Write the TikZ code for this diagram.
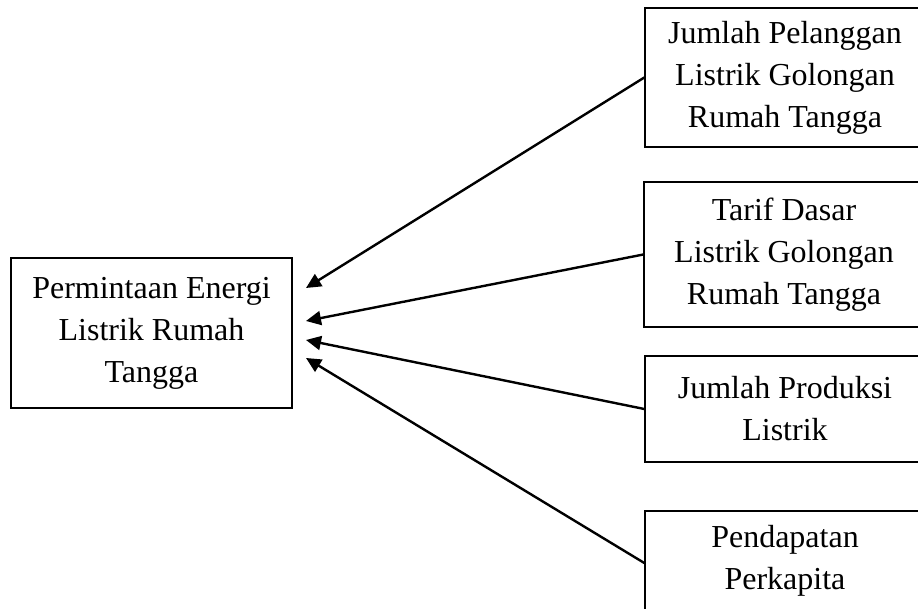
\documentclass[tikz,border=0pt]{standalone}
\usepackage{fontspec}
\setmainfont{Liberation Serif}
\usepackage{tikz}
\usetikzlibrary{arrows.meta,positioning,calc}
\tikzset{
	box/.style={
		rectangle,
		draw=black,
		line width=0.7pt,
		inner sep=0pt,
		align=center,
		font=\fontsize{16}{21}\selectfont,
	},
	factor/.style={
		box,
		minimum width=140pt,
	},
}

\begin{document}
\begin{tikzpicture}[x=0.5pt, y=-0.5pt, >={Triangle[length=7.5pt,width=7pt]}]
				
				\tikzstyle{link}=[->,line width=1.2pt]
				\clip (0,0) rectangle (918,609);
				
				\node [box, minimum width=140.5pt, minimum height=75pt] (demand) at (151.5,333) {Permintaan Energi\\Listrik Rumah\\Tangga};
				
				\node [factor, minimum height=69.5pt] (f1) at (785,77.5) {Jumlah Pelanggan\\Listrik Golongan\\Rumah Tangga};
				\node [factor, minimum height=72.5pt] (f2) at (784,254.5) {Tarif Dasar\\Listrik Golongan\\Rumah Tangga};
				\node [factor, minimum height=53pt] (f3) at (785,409) {Jumlah Produksi\\Listrik};
				\node [factor, minimum height=50pt] (f4) at (785,561) {Pendapatan\\Perkapita};
				
				\coordinate (t1) at (306,288);
				\coordinate (t2) at (306,321);
				\coordinate (t3) at (306,340);
				\coordinate (t4) at (306,358);
				
				\draw [link] (f1.west) -- (t1);
				\draw [link] (f2.west) -- (t2);
				\draw [link] (f3.west) -- (t3);
				\draw [link] ($(f4.west)+(0,2)$) -- (t4);
			\end{tikzpicture}
\end{document}
